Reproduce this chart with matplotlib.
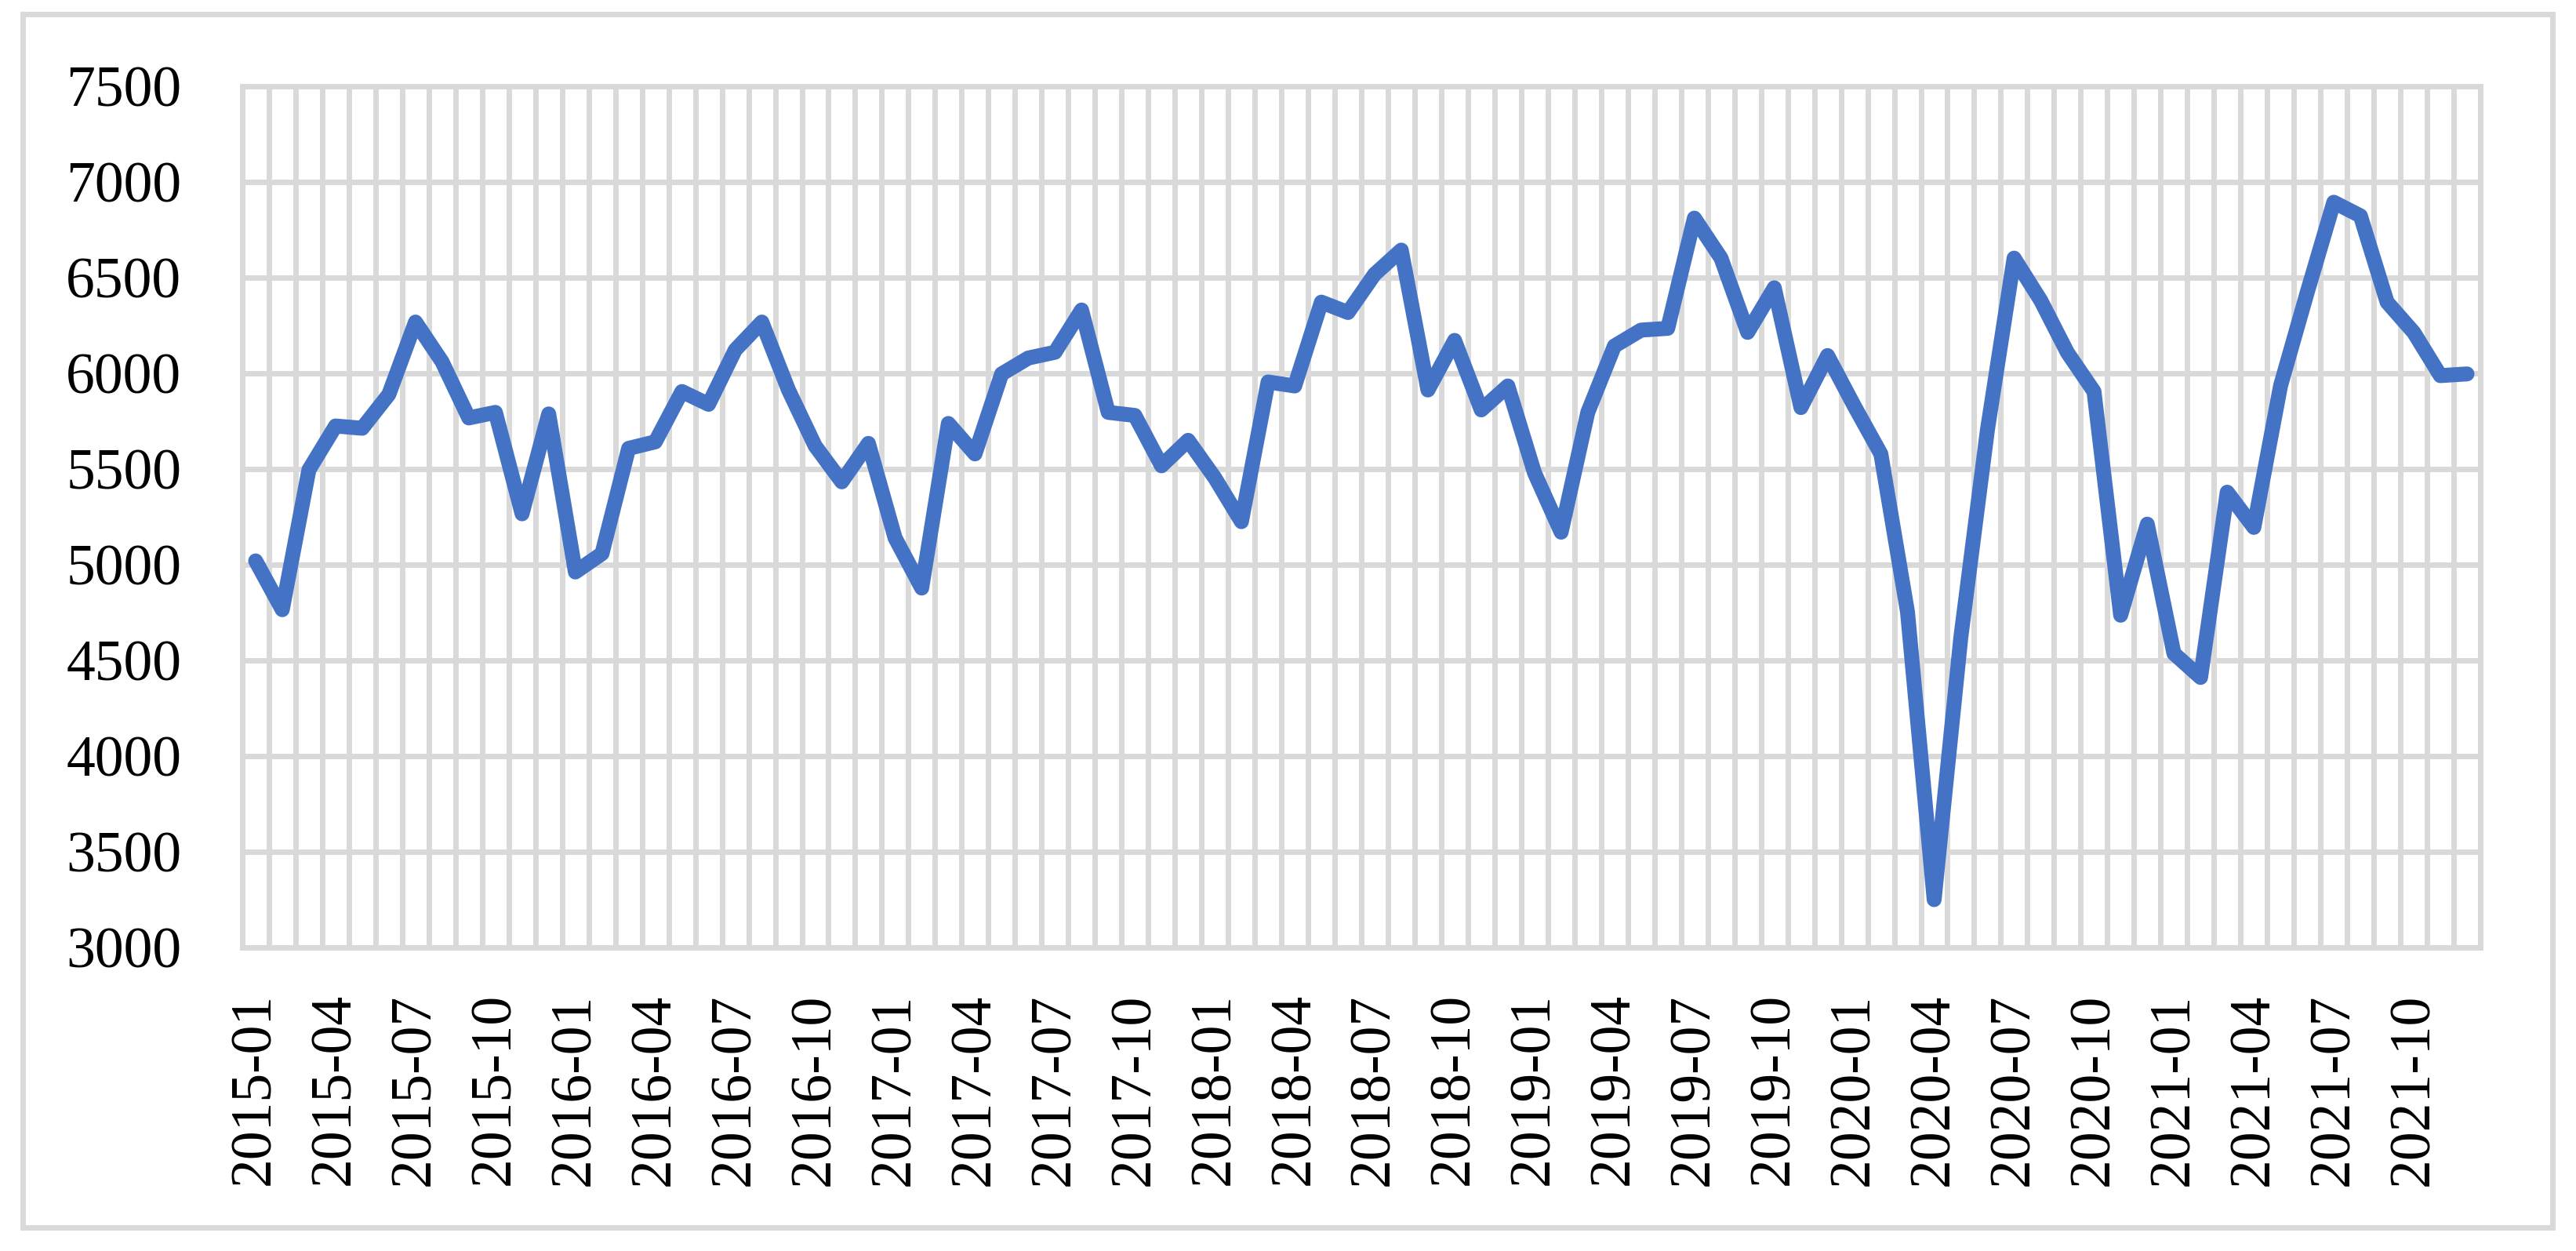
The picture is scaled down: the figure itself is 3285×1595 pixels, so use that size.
import matplotlib
matplotlib.use("Agg")
import matplotlib.pyplot as plt
from matplotlib.patches import Rectangle

# monthly values, 2015-01 .. 2021-12
months = [f"{y}-{m:02d}" for y in range(2015, 2022) for m in range(1, 13)]
values = [
    5020, 4765, 5496, 5725, 5713, 5890, 6268, 6060, 5767, 5796, 5266, 5788,
    4962, 5058, 5608, 5642, 5905, 5838, 6122, 6268, 5913, 5621, 5433, 5634,
    5140, 4878, 5738, 5579, 5997, 6080, 6110, 6331, 5796, 5780, 5517, 5650,
    5454, 5225, 5955, 5934, 6372, 6318, 6518, 6644, 5913, 6172, 5809, 5934,
    5480, 5170, 5796, 6143, 6226, 6235, 6811, 6602, 6214, 6447, 5821, 6093,
    5830, 5579, 4753, 3250, 4619, 5705, 6602, 6381, 6109, 5905, 4736, 5212,
    4536, 4411, 5379, 5195, 5934, 6422, 6894, 6823, 6372, 6214, 5988, 5997,
]
y_ticks = [3000, 3500, 4000, 4500, 5000, 5500, 6000, 6500, 7000, 7500]

grid_color = '#D9D9D9'
line_color = '#4472C4'
font = 'Liberation Serif'

W, H = 3285, 1595
fig = plt.figure(figsize=(W / 100, H / 100), dpi=100)
ax = fig.add_axes([309 / W, 1 - 1208 / H, (3163 - 309) / W, (1208 - 110) / H])

x = list(range(len(months)))
ax.plot(x, values, color=line_color, linewidth=13.7,
        solid_capstyle='round', solid_joinstyle='round', zorder=3)

ax.set_xlim(-0.5, len(months) - 0.5)
ax.set_ylim(y_ticks[0], y_ticks[-1])

# labels every third month, grid lines between categories
ax.set_xticks(x[::3])
ax.set_xticklabels(months[::3], rotation=90, fontsize=53, family=font)
ax.set_xticks([i - 0.5 for i in range(len(months) + 1)], minor=True)
ax.set_yticks(y_ticks)
ax.set_yticklabels([str(v) for v in y_ticks], fontsize=53, family=font)

ax.tick_params(axis='both', which='both', length=0)
ax.tick_params(axis='x', pad=42)
ax.tick_params(axis='y', pad=56)

ax.grid(True, axis='x', which='minor', color=grid_color, linewidth=5.0, zorder=1)
ax.grid(True, axis='y', which='major', color=grid_color, linewidth=5.0, zorder=1)
ax.grid(False, axis='x', which='major')
ax.set_axisbelow(True)
for s in ax.spines.values():
    s.set_color(grid_color)
    s.set_linewidth(5.0)

# light frame round the whole chart
fig.patches.append(Rectangle((29.5 / W, 1 - 1565 / H), (3255 - 29.5) / W, (1565 - 18) / H,
                             transform=fig.transFigure, fill=False,
                             edgecolor=grid_color, linewidth=5.0))

fig.savefig('out.png', dpi=100, facecolor='white')
